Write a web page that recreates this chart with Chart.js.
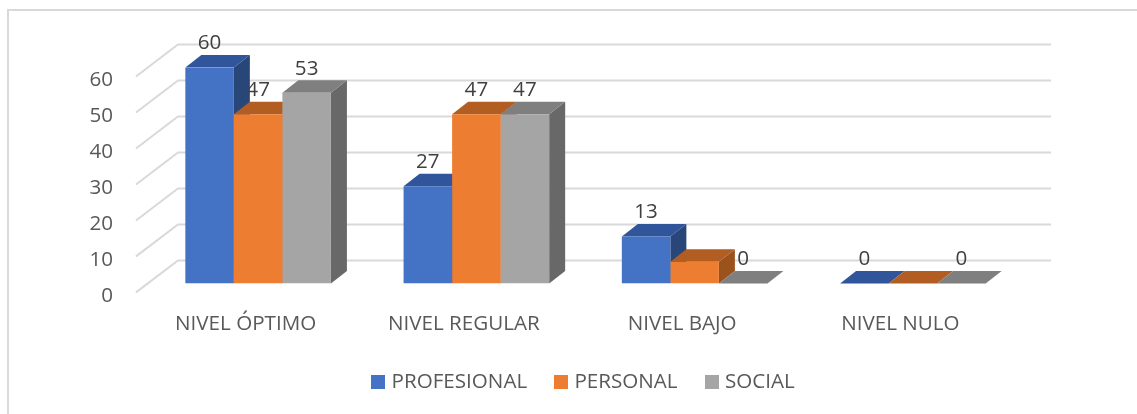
<!DOCTYPE html>
<html>
<head>
<meta charset="utf-8">
<style>
  html, body { margin: 0; padding: 0; background: #fff; }
  canvas { display: block; }
</style>
<script src="https://cdn.jsdelivr.net/npm/chart.js@4"></script>
</head>
<body>
<canvas id="chart" width="1137" height="414"></canvas>
<script>
const categories = ['NIVEL ÓPTIMO', 'NIVEL REGULAR', 'NIVEL BAJO', 'NIVEL NULO'];
const profesional = [60, 27, 13, 0];
const personal = [47, 47, 6, 0];
const social = [53, 47, 0, 0];
// the picture only labels some of the bars
const profesionalLabels = ['60', '27', '13', '0'];
const personalLabels = ['47', '47', '', ''];
const socialLabels = ['53', '47', '0', '0'];
const yTicks = [0, 10, 20, 30, 40, 50, 60];

const FONT = '"Open Sans", sans-serif';
const FONT_SIZE = 20.6;
const DEPTH_X = 16, DEPTH_Y = 12.5;

const series = [
  { label: 'PROFESIONAL', data: profesional, labels: profesionalLabels, front: '#4472C4', top: '#31559A', side: '#294679' },
  { label: 'PERSONAL', data: personal, labels: personalLabels, front: '#ED7D31', top: '#B25D22', side: '#9C521D' },
  { label: 'SOCIAL', data: social, labels: socialLabels, front: '#A5A5A5', top: '#7F7F7F', side: '#686868' }
];

function poly(ctx, pts, color) {
  ctx.fillStyle = color;
  ctx.beginPath();
  pts.forEach((p, i) => i ? ctx.lineTo(p[0], p[1]) : ctx.moveTo(p[0], p[1]));
  ctx.closePath();
  ctx.fill();
}

// legend square as a small canvas, the built in box leaves too wide a gap to the text
function legendSquare(color) {
  const c = document.createElement('canvas');
  c.width = 14;
  c.height = 14;
  const g = c.getContext('2d');
  g.fillStyle = color;
  g.fillRect(0, 0, 14, 14);
  return c;
}

const frame3d = {
  id: 'frame3d',
  // the legend sits right of the plot centre in the original
  afterLayout(chart) {
    chart.legend.left += 44;
    chart.legend.right += 44;
  },
  beforeDraw(chart) {
    const { ctx, chartArea, scales } = chart;
    ctx.save();
    ctx.fillStyle = '#fff';
    ctx.fillRect(0, 0, chart.width, chart.height);
    // outer frame, only top and left are visible
    ctx.strokeStyle = '#D9D9D9';
    ctx.lineWidth = 2;
    ctx.beginPath();
    ctx.moveTo(8, chart.height);
    ctx.lineTo(8, 10);
    ctx.lineTo(chart.width, 10);
    ctx.stroke();
    // walls of the 3d box
    yTicks.forEach(v => {
      const y = scales.y.getPixelForValue(v);
      ctx.beginPath();
      ctx.moveTo(chartArea.left - 13, y + 9);
      ctx.lineTo(chartArea.left + 29, y - 23);
      ctx.lineTo(chartArea.right + 29, y - 23);
      ctx.stroke();
    });
    ctx.restore();
  },
  // top and side go first, left to right, the library paints the front faces over them
  beforeDatasetsDraw(chart) {
    const { ctx } = chart;
    ctx.save();
    series.forEach((s, i) => {
      chart.getDatasetMeta(i).data.forEach(bar => {
        const l = bar.x - bar.width / 2, r = bar.x + bar.width / 2;
        poly(ctx, [[r, bar.y], [r + DEPTH_X, bar.y - DEPTH_Y], [r + DEPTH_X, bar.base - DEPTH_Y], [r, bar.base]], s.side);
        poly(ctx, [[l, bar.y], [l + DEPTH_X, bar.y - DEPTH_Y], [r + DEPTH_X, bar.y - DEPTH_Y], [r, bar.y]], s.top);
      });
    });
    ctx.restore();
  },
  afterDatasetsDraw(chart) {
    const { ctx } = chart;
    ctx.save();
    ctx.font = FONT_SIZE + 'px ' + FONT;
    ctx.fillStyle = '#404040';
    ctx.textAlign = 'center';
    ctx.textBaseline = 'middle';
    series.forEach((s, i) => {
      chart.getDatasetMeta(i).data.forEach((bar, j) => {
        if (s.labels[j]) ctx.fillText(s.labels[j], bar.x, bar.y - 24);
      });
    });
    ctx.restore();
  }
};

new Chart(document.getElementById('chart'), {
  type: 'bar',
  data: {
    labels: categories,
    datasets: series.map(s => ({
      label: s.label,
      data: s.data,
      backgroundColor: s.front,
      categoryPercentage: 0.667,
      barPercentage: 1
    }))
  },
  options: {
    responsive: false,
    animation: false,
    layout: { autoPadding: false, padding: { left: 60, right: 115, top: 67.5, bottom: 12 } },
    plugins: {
      tooltip: { enabled: false },
      legend: {
        position: 'bottom',
        labels: {
          usePointStyle: true,
          pointStyleWidth: 6,
          boxHeight: 14,
          padding: 31,
          color: '#595959',
          font: { family: FONT, size: FONT_SIZE },
          generateLabels(chart) {
            return Chart.defaults.plugins.legend.labels.generateLabels(chart).map((item, i) => {
              item.pointStyle = legendSquare(series[i].front);
              return item;
            });
          }
        }
      }
    },
    scales: {
      x: {
        grid: { display: false },
        border: { display: false },
        afterFit(scale) { scale.height = 57; },
        ticks: {
          color: '#595959',
          padding: 20,
          labelOffset: -12.5,
          maxRotation: 0,
          autoSkip: false,
          font: { family: FONT, size: FONT_SIZE }
        }
      },
      y: {
        min: 0,
        max: 60,
        grid: { display: false },
        border: { display: false },
        afterFit(scale) { scale.width = 89; },
        ticks: {
          stepSize: 10,
          color: '#595959',
          padding: 28,
          labelOffset: 12.5,
          font: { family: FONT, size: FONT_SIZE }
        }
      }
    }
  },
  plugins: [frame3d]
});
</script>
</body>
</html>
